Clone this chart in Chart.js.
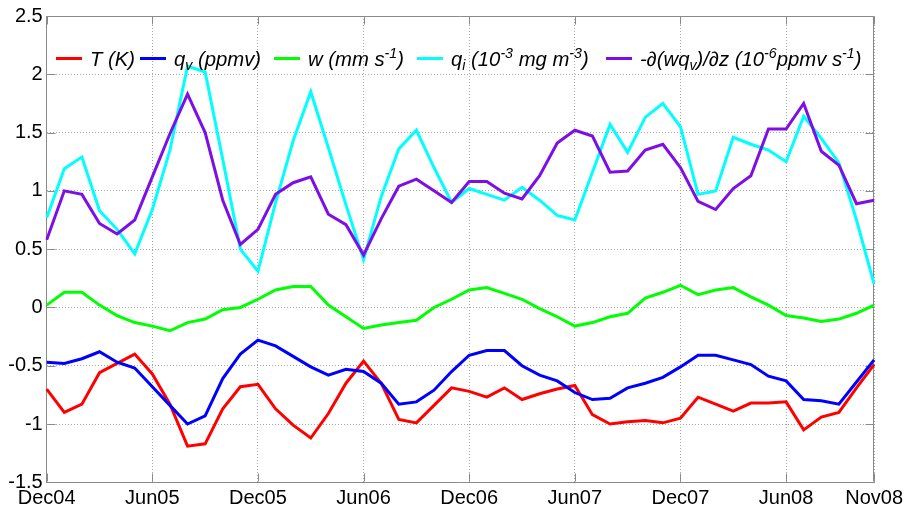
<!DOCTYPE html>
<html>
<head>
<meta charset="utf-8">
<script src="https://cdn.jsdelivr.net/npm/chart.js@4.4.1/dist/chart.umd.min.js"></script>
<style>
  body { margin: 0; background: #fff; }
  #wrap { position: relative; width: 907px; height: 510px; }
  #legend { position: absolute; left: 0; top: 0; width: 907px; height: 80px; pointer-events: none;
    font-family: "Liberation Sans", Arial, sans-serif; font-style: italic; font-size: 20.3px; color: #000; }
  #legend .item { position: absolute; top: 47px; height: 24px; white-space: nowrap; }
  #legend .swatch { position: absolute; left: 0; top: 10px; width: 26px; height: 3px; }
  #legend .txt { position: absolute; left: 34px; top: 1px; line-height: 22px; }
  #legend sub, #legend sup { font-size: 0.7em; line-height: 0; }
  #legend sub { vertical-align: -0.3em; }
  #legend sup { vertical-align: 0.55em; }
</style>
</head>
<body>
<div id="wrap">
  <canvas id="graf" width="907" height="510"></canvas>
  <div id="legend"></div>
</div>
<script>
// months Dec04 .. Nov08
const monNames = ['Jan','Feb','Mar','Apr','May','Jun','Jul','Aug','Sep','Oct','Nov','Dec']
const months = []
for (let k = 0; k < 48; k++) {
  months.push(monNames[(11 + k) % 12] + String(4 + Math.floor((11 + k) / 12)).padStart(2, '0'))
}
const xTickLabels = ['Dec04','Jun05','Dec05','Jun06','Dec06','Jun07','Dec07','Jun08','Nov08']

const tempK = [-0.70,-0.90,-0.83,-0.56,-0.48,-0.40,-0.57,-0.83,-1.19,-1.17,
  -0.87,-0.68,-0.66,-0.87,-1.01,-1.12,-0.91,-0.65,-0.46,-0.65,
  -0.96,-0.99,-0.84,-0.69,-0.72,-0.77,-0.69,-0.79,-0.74,-0.70,
  -0.67,-0.92,-1.00,-0.98,-0.97,-0.99,-0.95,-0.77,-0.83,-0.89,
  -0.82,-0.82,-0.81,-1.05,-0.94,-0.90,-0.69,-0.49]
const qv = [-0.47,-0.48,-0.44,-0.38,-0.47,-0.52,-0.68,-0.84,-1.00,-0.93,
  -0.61,-0.40,-0.28,-0.33,-0.42,-0.51,-0.58,-0.53,-0.55,-0.65,
  -0.83,-0.81,-0.71,-0.55,-0.41,-0.37,-0.37,-0.50,-0.58,-0.63,
  -0.73,-0.79,-0.78,-0.69,-0.65,-0.60,-0.51,-0.41,-0.41,-0.45,
  -0.49,-0.59,-0.63,-0.79,-0.80,-0.83,-0.64,-0.45]
const wVel = [0.02,0.13,0.13,0.02,-0.07,-0.13,-0.16,-0.20,-0.13,-0.10,
  -0.02,0.00,0.07,0.15,0.18,0.18,0.02,-0.08,-0.18,-0.15,
  -0.13,-0.11,0.00,0.07,0.15,0.17,0.12,0.07,-0.01,-0.08,
  -0.16,-0.13,-0.08,-0.05,0.08,0.13,0.19,0.11,0.15,0.17,
  0.09,0.02,-0.07,-0.09,-0.12,-0.10,-0.05,0.02]
const qi = [0.77,1.19,1.29,0.83,0.67,0.46,0.84,1.35,2.07,2.02,
  1.27,0.50,0.31,0.90,1.43,1.85,1.37,0.88,0.41,0.95,
  1.36,1.52,1.20,0.90,1.02,0.97,0.92,1.03,0.92,0.79,
  0.75,1.16,1.57,1.33,1.63,1.75,1.55,0.97,1.00,1.46,
  1.40,1.35,1.25,1.64,1.45,1.24,0.75,0.20]
const dwqdz = [0.58,1.00,0.97,0.72,0.63,0.75,1.12,1.49,1.83,1.50,
  0.92,0.54,0.67,0.97,1.07,1.12,0.80,0.71,0.45,0.76,
  1.04,1.10,1.00,0.90,1.08,1.08,0.98,0.93,1.13,1.41,
  1.52,1.47,1.16,1.17,1.35,1.40,1.20,0.91,0.84,1.02,
  1.13,1.53,1.53,1.75,1.34,1.22,0.89,0.92]

const seriesNames = ['T (K)', 'qv (ppmv)', 'w (mm s-1)', 'qi (10-3 mg m-3)', '-d(wqv)/dz (10-6 ppmv s-1)']
const legendNames = [
  'T (K)',
  'q<sub>v</sub> (ppmv)',
  'w (mm s<sup>-1</sup>)',
  'q<sub>i</sub> (10<sup>-3</sup> mg m<sup>-3</sup>)',
  '-∂(wq<sub>v</sub>)/∂z (10<sup>-6</sup>ppmv s<sup>-1</sup>)'
]
const colors = ['#ff0000', '#0000ff', '#00ff00', '#00ffff', 'rgb(125,15,230)']

const frameColor = '#8a8a8a'
const gridColor = '#a8a8a8'
const legendLeft = [56, 140, 274, 417, 606]

// legenda em html (sub/sup)
const htmlLegend = {
  id: 'htmlLegend',
  afterUpdate(chart) {
    const box = document.getElementById('legend')
    box.innerHTML = ''
    chart.data.datasets.forEach((ds, i) => {
      const item = document.createElement('div')
      item.className = 'item'
      item.style.left = legendLeft[i] + 'px'
      const sw = document.createElement('div')
      sw.className = 'swatch'
      sw.style.background = ds.borderColor
      const tx = document.createElement('div')
      tx.className = 'txt'
      tx.innerHTML = legendNames[i]
      item.append(sw, tx)
      box.appendChild(item)
    })
  }
}

// moldura de cima/direita e ticks pra dentro
const frameTicks = {
  id: 'frameTicks',
  beforeDatasetsDraw(chart) {
    const {ctx, chartArea: a, scales: {x, y}} = chart
    const L = Math.round(a.left) + 0.5, R = Math.round(a.right) - 0.5
    const T = Math.round(a.top) + 0.5, B = Math.round(a.bottom) - 0.5
    ctx.save()
    ctx.strokeStyle = frameColor
    ctx.lineWidth = 1
    ctx.beginPath()
    ctx.moveTo(L, T); ctx.lineTo(R, T); ctx.lineTo(R, B)
    xTickLabels.forEach(lbl => {
      const px = Math.round(x.getPixelForValue(months.indexOf(lbl))) + 0.5
      ctx.moveTo(px, B); ctx.lineTo(px, B - 8)
      ctx.moveTo(px, T); ctx.lineTo(px, T + 8)
    })
    y.ticks.forEach(t => {
      const py = Math.round(y.getPixelForValue(t.value)) + 0.5
      ctx.moveTo(L, py); ctx.lineTo(L + 8, py)
      ctx.moveTo(R, py); ctx.lineTo(R - 8, py)
    })
    ctx.stroke()
    ctx.restore()
  }
}

const allSeries = [tempK, qv, wVel, qi, dwqdz]

const myChart = new Chart(document.getElementById('graf'), {
  type: 'line',
  data: {
    labels: months,
    datasets: allSeries.map((s, i) => ({
      label: seriesNames[i],
      data: s,
      borderColor: colors[i],
      backgroundColor: colors[i],
      borderWidth: 3,
      pointRadius: 0,
      tension: 0,
      fill: false,
      order: 5 - i
    }))
  },
  options: {
    responsive: false,
    animation: false,
    layout: { padding: { top: 15.7, right: 29.7, left: 0, bottom: 0 } },
    plugins: {
      legend: { display: false },
      tooltip: { enabled: false }
    },
    scales: {
      x: {
        type: 'category',
        offset: false,
        afterFit: (s) => { s.height = 27.7 },
        grid: {
          color: (c) => xTickLabels.includes(months[c.index]) ? gridColor : 'rgba(0,0,0,0)',
          lineWidth: 1,
          drawTicks: false
        },
        border: { color: frameColor, width: 1, dash: [1, 2] },
        ticks: {
          autoSkip: false,
          maxRotation: 0,
          padding: 4,
          color: '#000',
          font: { family: '"Liberation Sans", Arial, sans-serif', size: 20 },
          callback: (v, i) => xTickLabels.includes(months[i]) ? months[i] : ''
        }
      },
      y: {
        min: -1.5,
        max: 2.5,
        afterFit: (s) => { s.width = 46.7 },
        grid: { color: gridColor, lineWidth: 1, drawTicks: false },
        border: { color: frameColor, width: 1, dash: [1, 2] },
        ticks: {
          stepSize: 0.5,
          padding: 4,
          color: '#000',
          font: { family: '"Liberation Sans", Arial, sans-serif', size: 20 },
          callback: (v) => String(v)
        }
      }
    }
  },
  plugins: [htmlLegend, frameTicks]
})
</script>
</body>
</html>
